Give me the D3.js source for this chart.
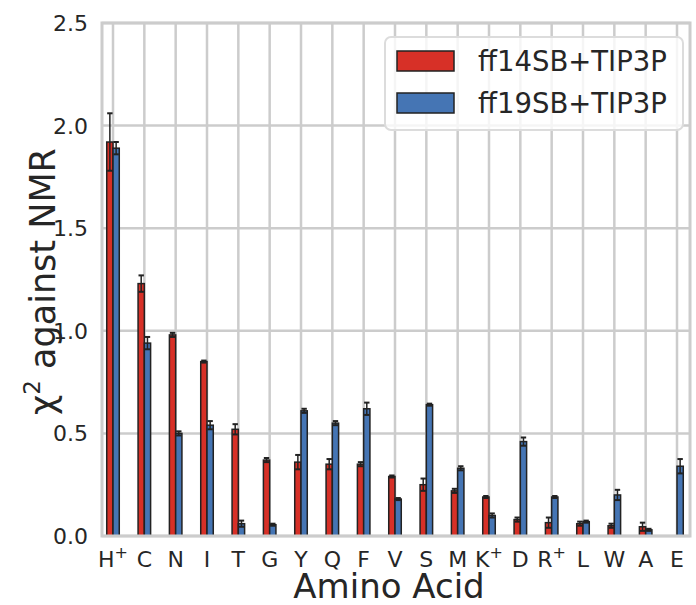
<!DOCTYPE html>
<html>
<head>
<meta charset="utf-8">
<script src="https://cdn.jsdelivr.net/npm/d3@7"></script>
<style>
  body { margin: 0; background: #fff; }
  text { font-family: "DejaVu Sans", sans-serif; fill: #262626; }
</style>
</head>
<body>
<svg id="myGraph" width="696" height="605"></svg>
<script>
// amino acids, in plotted order ("+" = charged form, drawn as superscript)
var aminoAcids = ['H+', 'C', 'N', 'I', 'T', 'G', 'Y', 'Q', 'F', 'V', 'S', 'M', 'K+', 'D', 'R+', 'L', 'W', 'A', 'E'];
var seriesNames = ['ff14SB+TIP3P', 'ff19SB+TIP3P'];
var ff14Values = [1.92, 1.23, 0.98, 0.85, 0.52, 0.37, 0.36, 0.35, 0.35, 0.29, 0.25, 0.22, 0.19, 0.08, 0.065, 0.06, 0.05, 0.045, 0];
var ff14Errors = [0.14, 0.04, 0.01, 0.005, 0.025, 0.01, 0.035, 0.025, 0.01, 0.005, 0.03, 0.01, 0.005, 0.01, 0.025, 0.01, 0.01, 0.02, 0];
var ff19Values = [1.89, 0.94, 0.50, 0.54, 0.06, 0.055, 0.61, 0.55, 0.62, 0.18, 0.64, 0.33, 0.10, 0.46, 0.19, 0.07, 0.20, 0.03, 0.34];
var ff19Errors = [0.03, 0.03, 0.01, 0.02, 0.015, 0.005, 0.01, 0.01, 0.03, 0.005, 0.005, 0.01, 0.01, 0.02, 0.005, 0.005, 0.025, 0.005, 0.035];
var yTicks = [0, 0.5, 1.0, 1.5, 2.0, 2.5];

var colors = ['#d73027', '#4575b4'];
var gridColor = '#cccccc';

var frame = { left: 102, right: 690, top: 23, bottom: 536 };

var svg = d3.select('#myGraph');

var x = d3.scalePoint()
  .domain(aminoAcids)
  .range([113, 677]);

var y = d3.scaleLinear()
  .domain([0, 2.5])
  .range([frame.bottom, frame.top]);

var barW = x.step() * 0.2;

// grid
svg.append('g')
  .selectAll('line')
  .data(yTicks)
  .enter()
  .append('line')
  .attr('x1', frame.left).attr('x2', frame.right)
  .attr('y1', function(d) { return y(d); })
  .attr('y2', function(d) { return y(d); })
  .style('stroke', gridColor)
  .style('stroke-width', 2.5);

svg.append('g')
  .selectAll('line')
  .data(aminoAcids)
  .enter()
  .append('line')
  .attr('x1', function(d) { return x(d); })
  .attr('x2', function(d) { return x(d); })
  .attr('y1', frame.top).attr('y2', frame.bottom)
  .style('stroke', gridColor)
  .style('stroke-width', 2.5);

// bars + error bars
var series = [
  { name: seriesNames[0], values: ff14Values, errors: ff14Errors, offset: -barW },
  { name: seriesNames[1], values: ff19Values, errors: ff19Errors, offset: 0 }
];

series.forEach(function(s, si) {
  var rows = aminoAcids.map(function(a, i) {
    return { name: a, value: s.values[i], err: s.errors[i] };
  }).filter(function(d) { return d.value > 0; });

  svg.append('g')
    .selectAll('rect')
    .data(rows)
    .enter()
    .append('rect')
    .attr('x', function(d) { return x(d.name) + s.offset; })
    .attr('y', function(d) { return y(d.value); })
    .attr('width', barW)
    .attr('height', function(d) { return y(0) - y(d.value); })
    .style('fill', colors[si])
    .style('stroke', '#222')
    .style('stroke-width', 1.5);

  var eb = svg.append('g')
    .selectAll('g')
    .data(rows)
    .enter()
    .append('g')
    .attr('transform', function(d) {
      return 'translate(' + (x(d.name) + s.offset + barW / 2) + ',0)';
    });

  eb.append('line')
    .attr('y1', function(d) { return y(d.value - d.err); })
    .attr('y2', function(d) { return y(d.value + d.err); })
    .style('stroke', '#222')
    .style('stroke-width', 1.5);

  [-1, 1].forEach(function(sign) {
    eb.append('line')
      .attr('x1', -2.7).attr('x2', 2.7)
      .attr('y1', function(d) { return y(d.value + sign * d.err); })
      .attr('y2', function(d) { return y(d.value + sign * d.err); })
      .style('stroke', '#222')
      .style('stroke-width', 2);
  });
});

// frame
svg.append('rect')
  .attr('x', frame.left).attr('y', frame.top)
  .attr('width', frame.right - frame.left)
  .attr('height', frame.bottom - frame.top)
  .style('fill', 'none')
  .style('stroke', gridColor)
  .style('stroke-width', 3);

// y tick labels
svg.append('g')
  .selectAll('text')
  .data(yTicks)
  .enter()
  .append('text')
  .attr('x', 88)
  .attr('y', function(d) { return y(d); })
  .attr('dy', '0.36em')
  .attr('text-anchor', 'end')
  .style('font-size', '22px')
  .text(function(d) { return d3.format('.1f')(d); });

// x tick labels
var xLabels = svg.append('g')
  .selectAll('text')
  .data(aminoAcids)
  .enter()
  .append('text')
  .attr('x', function(d) { return x(d); })
  .attr('y', 567)
  .attr('text-anchor', 'middle')
  .style('font-size', '22px');

xLabels.append('tspan')
  .text(function(d) { return d.replace('+', ''); });
xLabels.filter(function(d) { return d.indexOf('+') >= 0; })
  .append('tspan')
  .attr('dy', -9)
  .style('font-size', '16px')
  .text('+');

// axis titles
svg.append('text')
  .attr('x', 389)
  .attr('y', 598)
  .attr('text-anchor', 'middle')
  .style('font-size', '34px')
  .text('Amino Acid');

var yTitle = svg.append('text')
  .attr('transform', 'translate(55,' + ((frame.top + frame.bottom) / 2 + 2) + ') rotate(-90)')
  .attr('text-anchor', 'middle')
  .style('font-size', '35px');
yTitle.append('tspan').text('χ');
yTitle.append('tspan').attr('dy', -15).style('font-size', '23px').text('2');
yTitle.append('tspan').attr('dy', 15).text(' against NMR');

// legend
var legend = svg.append('g');
legend.append('rect')
  .attr('x', 385).attr('y', 37)
  .attr('width', 298).attr('height', 93)
  .attr('rx', 6)
  .style('fill', 'rgba(255,255,255,0.8)')
  .style('stroke', '#dcdcdc')
  .style('stroke-width', 2);

var items = legend.selectAll('g.item')
  .data(seriesNames)
  .enter()
  .append('g')
  .attr('class', 'item')
  .attr('transform', function(d, i) { return 'translate(0,' + (61 + i * 42) + ')'; });

items.append('rect')
  .attr('x', 397).attr('y', -10)
  .attr('width', 57).attr('height', 20)
  .style('fill', function(d, i) { return colors[i]; })
  .style('stroke', '#222')
  .style('stroke-width', 1.5);

items.append('text')
  .attr('x', 478)
  .attr('dy', '0.36em')
  .style('font-size', '27.5px')
  .text(function(d) { return d; });
</script>
</body>
</html>
